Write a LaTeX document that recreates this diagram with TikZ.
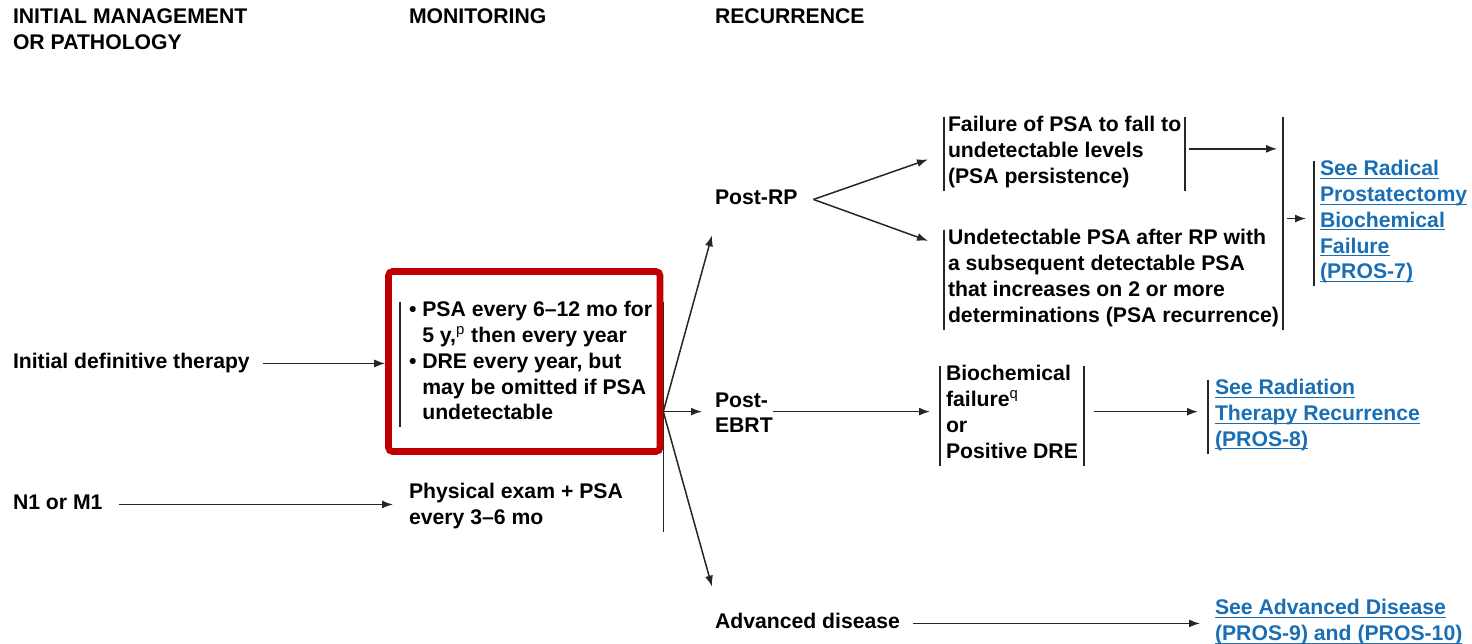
\documentclass[tikz,border=0pt]{standalone}
\usepackage{fontspec}
\setmainfont{Liberation Sans}
\usetikzlibrary{arrows.meta,backgrounds}
\definecolor{piros}{RGB}{192,0,0}
\definecolor{kek}{RGB}{25,110,180}
\newcommand{\ugras}[1]{{\color{kek}\setbox0\hbox{#1}\rlap{\rule[-1.5pt]{\wd0}{0.55pt}}\box0}}
\tikzset{
  szov/.style={align=left,inner sep=0pt,outer sep=0pt,anchor=north west,execute at begin node=\strut},
  vonal/.style={draw=black!85,line width=0.75pt},
  bal/.style={szov,append after command={(\tikzlastnode.north west) edge[vonal] (\tikzlastnode.south west)}},
  ket/.style={bal,append after command={(\tikzlastnode.north east) edge[vonal] (\tikzlastnode.south east)}},
  nyil/.style={vonal,-{Latex[length=5.5pt,width=4pt]}},
  kiem/.style={draw=piros,line width=3.3pt,rounded corners=2pt,minimum width=135.75pt,minimum height=90pt},
}
\begin{document}
\begin{tikzpicture}[x=0.5pt,y=-0.5pt,font=\fontsize{10.6}{12.85}\selectfont\bfseries]
  \useasboundingbox (0,0) rectangle (1472,643);
  \node[szov] (h1) at (13,8.6) {INITIAL MANAGEMENT\\OR PATHOLOGY};
  \node[szov] (h2) at (409,5.6) {MONITORING};
  \node[szov] (h3) at (715,5.6) {RECURRENCE};
  \node[szov] (init) at (13,350.6) {Initial definitive therapy};
  \node[szov] (n1) at (13,491.6) {N1 or M1};
  \node[bal,inner xsep=4.5pt] (mon) at (400,301.6) {\textbullet\ PSA every 6--12 mo for\\
    \phantom{\textbullet\ }5 y,\textsuperscript{\mdseries p} then every year\\
    \textbullet\ DRE every year, but\\
    \phantom{\textbullet\ }may be omitted if PSA\\
    \phantom{\textbullet\ }undetectable};
  \node[kiem] (hl) at (524.25,361.5) {};
  \node[szov] (phys) at (409,483.6) {Physical exam + PSA\\every 3--6 mo};
  \node[szov] (prp) at (715,186.6) {Post-RP};
  \node[szov] (ebrt) at (715,392.6) {Post-\\EBRT};
  \node[szov] (adv) at (715,610.6) {Advanced disease};
  \node[ket,inner xsep=2pt] (fail) at (944,116.6) {Failure of PSA to fall to\\undetectable levels\\(PSA persistence)};
  \node[bal,inner xsep=2pt] (rec) at (944,229.6) {Undetectable PSA after RP with\\a subsequent detectable PSA\\that increases on 2 or more\\determinations (PSA recurrence)};
  \node[ket,inner xsep=3pt] (bio) at (940,365.6) {Biochemical\\failure\textsuperscript{\mdseries q}\\or\\Positive DRE};
  \node[bal,inner xsep=3pt] (lnk1) at (1314,160.6) {\ugras{See Radical}\\\ugras{Prostatectomy}\\\ugras{Biochemical}\\\ugras{Failure}\\\ugras{(PROS-7)}};
  \node[bal,inner xsep=3.5pt] (lnk2) at (1208,379.6) {\ugras{See Radiation}\\\ugras{Therapy Recurrence}\\\ugras{(PROS-8)}};
  \node[szov] (lnk3) at (1215,599.6) {\ugras{See Advanced Disease}\\\ugras{(PROS-9) and (PROS-10)}};
  \begin{scope}[on background layer]
    \draw[vonal] (hl.east |- mon.north) -- (hl.east |- phys.south);
  \end{scope}
  \coordinate (eb) at ([yshift=2.5pt]ebrt.west);
  \coordinate (ebk) at ([yshift=2.5pt]ebrt.east);
  \coordinate (fan) at (hl.east |- eb);
  \coordinate (csucs) at ([xshift=8pt]prp.east);
  \coordinate (faile) at ([yshift=2.5pt]fail.east);
  \coordinate (bioe) at ([yshift=2pt]bio.east);
  \coordinate (lnkb) at ([yshift=2.5pt]lnk1.west);
  \draw[nyil,shorten <=6.5pt] (init.east) -- (init.east -| hl.west);
  \draw[nyil,shorten <=8pt,shorten >=8pt] (n1.east) -- (n1.east -| phys.west);
  \draw[nyil] (fan) -- ([shift={(-3,23)}]prp.south west);
  \draw[nyil,shorten >=6.5pt] (fan) -- (eb);
  \draw[nyil] (fan) -- ([shift={(-3,-24)}]adv.north west);
  \draw[nyil,shorten >=8.5pt] (csucs) -- (fail.west);
  \draw[nyil,shorten >=8.5pt] (csucs) -- ([shift={(0,17)}]rec.north west);
  \draw[vonal] (rec.south east) -- (rec.east |- fail.north);
  \draw[nyil,shorten <=2pt,shorten >=3pt] (faile) -- (faile -| rec.east);
  \draw[nyil,shorten <=2pt,shorten >=4pt] (rec.east |- lnkb) -- (lnkb);
  \draw[nyil,shorten >=5pt] (ebk) -- (ebk -| bio.west);
  \draw[nyil,shorten <=5pt,shorten >=5pt] (bioe) -- (bioe -| lnk2.west);
  \draw[nyil,shorten <=6.5pt,shorten >=7.5pt] (adv.east) -- (adv.east -| lnk3.west);
\end{tikzpicture}
\end{document}
